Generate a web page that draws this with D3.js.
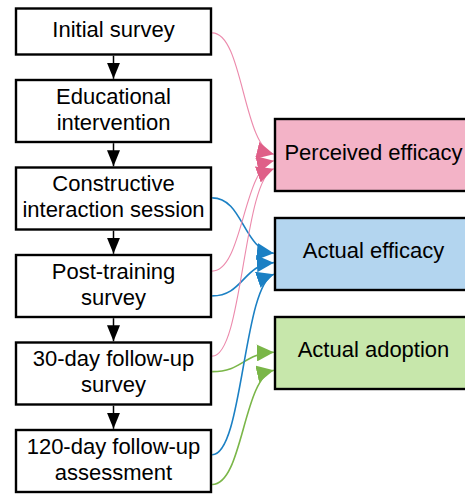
<!DOCTYPE html>
<html>
<head>
<meta charset="utf-8">
<script src="https://cdn.jsdelivr.net/npm/d3@7/dist/d3.min.js"></script>
<style>
  body { margin: 0; background: #fff; }
  svg { display: block; }
</style>
</head>
<body>
<div id="chart"></div>
<script>
// study steps, top to bottom, as they are broken into lines in the boxes
const steps = [
  ['Initial survey'],
  ['Educational', 'intervention'],
  ['Constructive', 'interaction session'],
  ['Post-training', 'survey'],
  ['30-day follow-up', 'survey'],
  ['120-day follow-up', 'assessment']
];
const outcomes = ['Perceived efficacy', 'Actual efficacy', 'Actual adoption'];
const outcomeFill = ['#f3b3c7', '#b3d5ef', '#c7e7ab'];
const outcomeLine = ['#ec8aac', '#1b80c4', '#7ab648'];
const outcomeHead = ['#df5f88', '#1b80c4', '#7ab648'];

// which step measures which outcome
const linkFrom = [0, 2, 3, 3, 4, 4, 5, 5];
const linkTo   = [0, 1, 0, 1, 0, 2, 1, 2];

// layout only: where each link leaves / enters its box (fraction of box height)
const srcPort = [0.53, 0.49, 0.26, 0.66, 0.22, 0.47, 0.40, 0.88];
const tgtPort = [0.49, 0.49, 0.58, 0.62, 0.69, 0.49, 0.78, 0.74];

const width = 465, height = 495;
const font = '"Liberation Sans", Arial, sans-serif';
const fontSize = 22, lineH = 26;

const left = { x: 16, w: 195, top: 8.5, gap: 25.5, h1: 46, h2: 62 };
const right = { x: 275, w: 197, h: 72 };

const svg = d3.select('#chart').append('svg')
  .attr('width', width)
  .attr('height', height);

// stack the step boxes
let y = left.top;
const stepBoxes = steps.map((lines, i) => {
  const h = lines.length === 1 ? left.h1 : left.h2;
  const b = { i, lines, x: left.x, y, w: left.w, h };
  y += h + left.gap;
  return b;
});

const yOut = d3.scalePoint()
  .domain(outcomes)
  .range([155, 353]);

const outBoxes = outcomes.map((name, i) => ({
  i, name, x: right.x, y: yOut(name) - right.h / 2, w: right.w, h: right.h
}));

// arrow heads
const defs = svg.append('defs');
function marker(id, color, len, half) {
  defs.append('marker')
    .attr('id', id)
    .attr('markerUnits', 'userSpaceOnUse')
    .attr('viewBox', `0 ${-half} ${len} ${half * 2}`)
    .attr('refX', len)
    .attr('refY', 0)
    .attr('markerWidth', len)
    .attr('markerHeight', half * 2)
    .attr('orient', 'auto')
    .append('path')
    .attr('d', `M0,${-half}L${len},0L0,${half}Z`)
    .attr('fill', color);
}
marker('head-black', '#000', 16, 6.5);
outcomes.forEach((o, i) => marker('head-' + i, outcomeHead[i], 17, 8.5));

// black arrows between steps
svg.append('g').selectAll('line')
  .data(stepBoxes.slice(1))
  .join('line')
  .attr('x1', d => d.x + d.w / 2)
  .attr('x2', d => d.x + d.w / 2)
  .attr('y1', d => stepBoxes[d.i - 1].y + stepBoxes[d.i - 1].h + 1.2)
  .attr('y2', d => d.y - 1.2)
  .attr('stroke', '#000')
  .attr('stroke-width', 1.5)
  .attr('marker-end', 'url(#head-black)');

// curved links from steps to outcomes
const links = linkFrom.map((s, k) => {
  const sb = stepBoxes[s], tb = outBoxes[linkTo[k]];
  return {
    k, t: linkTo[k],
    x0: sb.x + sb.w + 1.2, y0: sb.y + sb.h * srcPort[k],
    x1: tb.x - 1.2, y1: tb.y + tb.h * tgtPort[k]
  };
});

function curve(d) {
  const dx = d.x1 - d.x0, dy = d.y1 - d.y0;
  const p = d3.path();
  p.moveTo(d.x0, d.y0);
  p.bezierCurveTo(d.x0 + dx * 0.5, d.y0, d.x1 - dx * 0.5, d.y1 - dy * 0.06, d.x1, d.y1);
  return p.toString();
}

svg.append('g').selectAll('path')
  .data(links)
  .join('path')
  .attr('d', curve)
  .attr('fill', 'none')
  .attr('stroke', d => outcomeLine[d.t])
  .attr('stroke-width', d => d.t === 0 ? 1.1 : 1.6)
  .attr('marker-end', d => `url(#head-${d.t})`);

// step boxes
const sg = svg.append('g').selectAll('g')
  .data(stepBoxes)
  .join('g');

sg.append('rect')
  .attr('x', d => d.x)
  .attr('y', d => d.y)
  .attr('width', d => d.w)
  .attr('height', d => d.h)
  .attr('fill', '#fff')
  .attr('stroke', '#000')
  .attr('stroke-width', 2.4);

sg.each(function(d) {
  const n = d.lines.length;
  d3.select(this).selectAll('text')
    .data(d.lines)
    .join('text')
    .attr('x', d.x + d.w / 2)
    .attr('y', (t, j) => d.y + d.h / 2 + (j - (n - 1) / 2) * lineH + 5.6)
    .attr('text-anchor', 'middle')
    .attr('font-family', font)
    .attr('font-size', fontSize)
    .attr('fill', '#000')
    .text(t => t);
});

// outcome boxes
const og = svg.append('g').selectAll('g')
  .data(outBoxes)
  .join('g');

og.append('rect')
  .attr('x', d => d.x)
  .attr('y', d => d.y)
  .attr('width', d => d.w)
  .attr('height', d => d.h)
  .attr('fill', d => outcomeFill[d.i])
  .attr('stroke', '#000')
  .attr('stroke-width', 2.4);

og.append('text')
  .attr('x', d => d.x + d.w / 2)
  .attr('y', (d, i) => d.y + d.h / 2 + (i === 0 ? 5 : 4))
  .attr('text-anchor', 'middle')
  .attr('font-family', font)
  .attr('font-size', fontSize)
  .attr('fill', '#000')
  .text(d => d.name);
</script>
</body>
</html>
